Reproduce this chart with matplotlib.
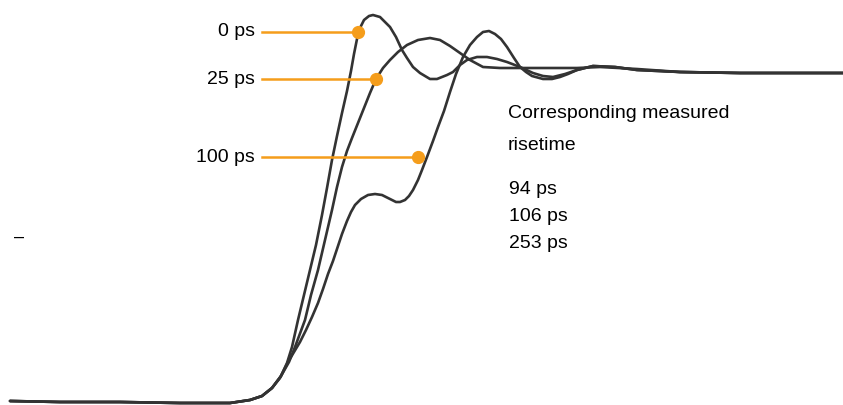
import matplotlib.pyplot as plt

# step responses (time axis, level axis; level grows downward like the scope picture)
t_0ps = [10, 60, 120, 180, 230, 250, 262, 272, 280, 287, 292, 298, 304, 310, 316, 322, 327, 332, 337, 342,
         347, 351, 354, 357, 360, 364, 369, 373, 380, 390, 396, 402, 407, 413, 420, 430, 437, 447, 453, 460,
         467, 477, 487, 497, 507, 520, 533, 543, 553, 565, 577, 593, 615, 637, 680, 740, 843]
v_0ps = [401, 402, 402, 403, 403, 400, 396, 388, 378, 363, 347, 320, 295, 270, 245, 215, 188, 160, 136, 113,
         91, 71, 54, 39, 28, 20, 16, 15, 17, 27, 37, 50, 58, 67, 73, 79, 79, 75, 72, 65,
         60, 57, 57, 59, 62, 67, 73, 76, 77, 74, 70, 66, 67, 70, 72, 73, 73]

t_25ps = [10, 60, 120, 180, 230, 250, 262, 272, 281, 289, 295, 305, 311, 318, 325, 332, 337, 342, 347, 352,
          358, 364, 370, 376, 383, 390, 398, 407, 418, 430, 440, 450, 460, 470, 483, 500, 520, 553, 577, 600,
          637, 680, 740, 843]
v_25ps = [401, 402, 402, 403, 403, 400, 396, 388, 376, 362, 347, 320, 295, 270, 240, 210, 187, 167, 151, 138,
          123, 108, 93, 79, 68, 60, 52, 45, 40, 38, 40, 46, 53, 60, 67, 68, 68, 68, 68, 67,
          69, 72, 73, 73]

t_100ps = [10, 60, 120, 180, 230, 250, 262, 272, 281, 288, 294, 300, 306, 312, 318, 323, 328, 333, 337, 342,
           347, 351, 355, 361, 368, 375, 382, 390, 396, 400, 405, 409, 413, 418, 422, 427, 433, 438, 444, 450,
           456, 463, 470, 477, 483, 489, 495, 501, 507, 514, 520, 526, 532, 543, 552, 560, 568, 577, 593, 615,
           637, 680, 740, 843]
v_100ps = [401, 402, 402, 403, 403, 400, 396, 388, 376, 362, 352, 342, 330, 317, 303, 289, 274, 261, 249, 234,
           221, 212, 205, 199, 195, 194, 195, 199, 202, 202, 200, 196, 190, 180, 170, 157, 141, 127, 111, 92,
           74, 57, 45, 37, 32, 31, 34, 39, 47, 58, 67, 72, 76, 79, 79, 77, 74, 70, 66, 67,
           70, 72, 73, 73]

labels = ['0 ps', '25 ps', '100 ps']
dots = [(358, 32), (376, 79), (418, 157)]
risetimes = ['94 ps', '106 ps', '253 ps']

orange = '#f59d1b'
curve_col = '#333333'

plt.rcParams['font.family'] = ['Liberation Sans', 'DejaVu Sans']

fig = plt.figure(figsize=(8.43, 4.05), dpi=100)
ax = fig.add_axes([0, 0, 1, 1])
ax.set_xlim(0, 843)
ax.set_ylim(405, 0)
ax.axis('off')

for t, v in [(t_0ps, v_0ps), (t_25ps, v_25ps), (t_100ps, v_100ps)]:
    ax.plot(t, v, color=curve_col, lw=1.9, solid_capstyle='round', solid_joinstyle='round')

# callouts
for lab, (x, y) in zip(labels, dots):
    ax.plot([262, x], [y, y], color=orange, lw=1.8, zorder=3)
    ax.plot(x, y, 'o', color=orange, ms=8.5, zorder=4)
    ax.text(255, y, lab, ha='right', va='center', fontsize=14)

ax.text(508, 113, 'Corresponding measured', ha='left', va='center', fontsize=14)
ax.text(508, 145, 'risetime', ha='left', va='center', fontsize=14)
for i, r in enumerate(risetimes):
    ax.text(509, 189 + i * 27.5, r, ha='left', va='center', fontsize=14)

# stray tick on the left edge
ax.text(14, 237, '–', ha='left', va='center', fontsize=13)

fig.savefig('out.png', dpi=100)
